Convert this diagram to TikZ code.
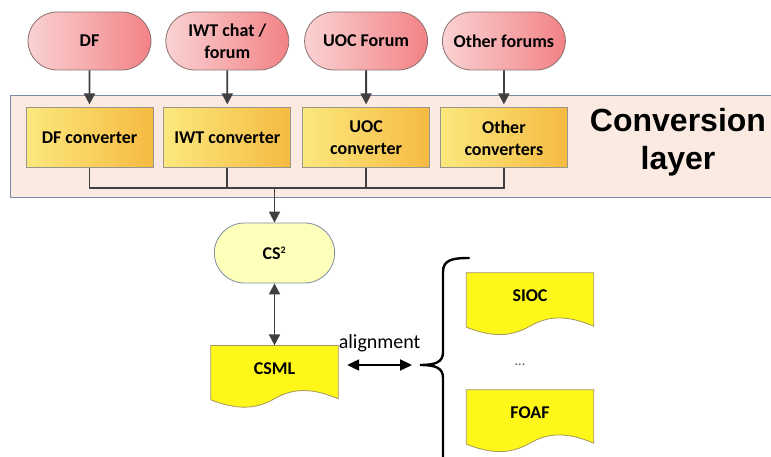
\documentclass[tikz,border=0pt]{standalone}
\usepackage{fontspec}
\setmainfont{Carlito}
\newfontfamily\layerfont{Liberation Sans}
\usepackage{tikz}
\usetikzlibrary{positioning, arrows.meta, shapes.misc, calc, backgrounds}

\definecolor{pillL}{RGB}{250,210,210}
\definecolor{pillR}{RGB}{242,130,134}
\definecolor{pillLine}{RGB}{140,112,112}
\definecolor{convL}{RGB}{252,232,125}
\definecolor{convR}{RGB}{245,186,66}
\definecolor{convLine}{RGB}{150,150,140}
\definecolor{bandFill}{RGB}{251,234,226}
\definecolor{bandLine}{RGB}{125,140,165}
\definecolor{csFill}{RGB}{255,255,188}
\definecolor{docFill}{RGB}{255,247,25}
\definecolor{docLine}{RGB}{165,150,90}
\definecolor{arrowGray}{RGB}{64,64,64}

% wavy document outline round a docbox node
\newcommand{\wavydoc}[1]{%
  \begin{scope}[on background layer]
    \path[fill=docFill, draw=docLine, line width=0.8pt]
      (#1.north west) -- (#1.north east) -- ($(#1.south east)+(0,7)$)
      .. controls ($(#1.south west)+(101.6,-4)$) and ($(#1.south west)+(82.5,-4)$) .. ($(#1.south west)+(63.5,7)$)
      .. controls ($(#1.south west)+(44.5,18)$) and ($(#1.south west)+(25.4,18)$) .. ($(#1.south west)+(0,8)$)
      -- cycle;
  \end{scope}}

\begin{document}
\begin{tikzpicture}[
    x=1pt, y=-1pt,
    pill/.style={rounded rectangle, draw=pillLine, line width=0.8pt, left color=pillL, right color=pillR, minimum width=127pt, minimum height=58pt, align=center, inner sep=2pt, font=\fontsize{18}{22}\selectfont\bfseries},
    conv/.style={rectangle, draw=convLine, line width=0.8pt, left color=convL, right color=convR, minimum width=127pt, minimum height=60pt, align=center, inner sep=2pt, font=\fontsize{18}{22}\selectfont\bfseries},
    cspill/.style={rounded rectangle, draw=bandLine, line width=0.8pt, fill=csFill, minimum width=127pt, minimum height=60pt, font=\fontsize{18}{22}\selectfont\bfseries},
    docbox/.style={rectangle, minimum width=127pt, minimum height=46pt, inner sep=0pt, font=\fontsize{18}{22}\selectfont\bfseries},
    arrow/.style={-{Triangle[length=11pt, width=11pt]}, line width=1.8pt, color=arrowGray},
    twoway/.style={{Triangle[length=11pt, width=11pt]}-{Triangle[length=11pt, width=11pt]}, line width=1.8pt, color=arrowGray},
    link/.style={line width=1.8pt, color=arrowGray}
]
\useasboundingbox (0,0) rectangle (771,457);

% Conversion layer band
\path[fill=bandFill, draw=bandLine, line width=1pt] (10,96) rectangle (785,198);
\node[font=\layerfont\fontsize{32}{38}\selectfont\bfseries, align=center] (layer) at (678,142) {Conversion\\layer};

% Sources
\node[pill] (df) at (89.5,41) {DF};
\node[pill, right=14pt of df] (iwt) {IWT chat /\\forum};
\node[pill, right=15pt of iwt] (uoc) {UOC Forum};
\node[pill, right=14pt of uoc] (other) {Other forums};

% Converters
\node[conv, below=37pt of df] (dfconv) {DF converter};
\node[conv, below=37pt of iwt] (iwtconv) {IWT converter};
\node[conv, below=37pt of uoc] (uocconv) {UOC\\converter};
\node[conv, below=37pt of other] (otherconv) {Other\\converters};

% CS2 and CSML
\coordinate (join) at (274.5,188);
\node[cspill] (cs) at (274.5,253) {CS\textsuperscript{\fontsize{10}{10}\selectfont 2}};
\node[docbox, below=62pt of cs] (csml) {CSML};
\wavydoc{csml}

% Vocabularies
\node[docbox] (sioc) at (530,296) {SIOC};
\node[font=\fontsize{14}{14}\selectfont, text=black!70] (dots) at (520,365) {...};
\node[docbox] (foaf) at (530,413) {FOAF};
\wavydoc{sioc}
\wavydoc{foaf}

% Brace
\coordinate (brace) at (420,365);
\draw[line width=2.4pt, line cap=round] (469,258) .. controls (452,258) and (443,260) .. (443,272) -- (443,352)
  .. controls (443,362) and (436,365) .. (brace)
  .. controls (436,365) and (443,368) .. (443,378) -- (443,462);

% Arrows
\foreach \src/\dst in {df/dfconv, iwt/iwtconv, uoc/uocconv, other/otherconv}
  \draw[arrow, shorten >=3pt] (\src) -- (\dst);
\foreach \src in {dfconv, iwtconv, uocconv, otherconv}
  \draw[link] (\src.south) |- (join);
\draw[arrow] (join) -- (cs.north);
\draw[twoway] (cs.south) -- (csml.north);
\draw[{Triangle[length=12pt, width=11pt]}-{Triangle[length=12pt, width=11pt]}, line width=2.2pt] ($(csml.east |- brace)+(9,0)$) -- node[above=9pt, font=\fontsize{20}{22}\selectfont] (align) {alignment} ($(brace)+(-8,0)$);

\end{tikzpicture}
\end{document}
